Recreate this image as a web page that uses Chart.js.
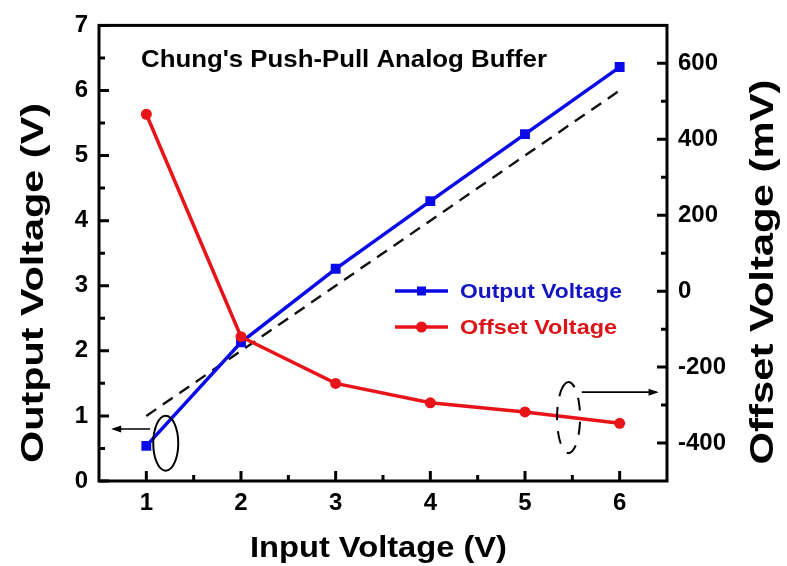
<!DOCTYPE html>
<html>
<head>
<meta charset="utf-8">
<script src="https://cdn.jsdelivr.net/npm/chart.js@4.4.1/dist/chart.umd.min.js"></script>
<style>
  html, body { margin: 0; padding: 0; background: #fff; }
  #wrap { width: 787px; height: 566px; }
</style>
</head>
<body>
<div id="wrap"><canvas id="c" width="787" height="566"></canvas></div>
<script>
// ---------------- data ----------------
const inputVoltage   = [1, 2, 3, 4, 5, 6];                       // V (x)
const outputVoltage  = [0.54, 2.13, 3.26, 4.30, 5.33, 6.36];     // V (left axis)
const offsetVoltage  = [466, -120, -243, -294, -318, -348];      // mV (right axis)
const idealVoltage   = [1.0, 2.0, 3.0, 4.0, 5.0, 6.0];           // dashed reference (V)

const xTicks   = [1, 2, 3, 4, 5, 6];
const xMinor   = [1.5, 2.5, 3.5, 4.5, 5.5];
const yTicks   = [0, 1, 2, 3, 4, 5, 6, 7];
const yMinor   = [0.5, 1.5, 2.5, 3.5, 4.5, 5.5, 6.5];
const y1Ticks  = [-400, -200, 0, 200, 400, 600];
const y1Minor  = [-300, -100, 100, 300, 500];
const xRange   = [0.5, 6.5];
const yRange   = [0, 7];
const y1Range  = [-500, 700];

const chartTitle  = "Chung's Push-Pull Analog Buffer";
const xTitle      = 'Input Voltage (V)';
const yTitle      = 'Output Voltage (V)';
const y1Title     = 'Offset Voltage (mV)';
const seriesNames = ['Output Voltage', 'Offset Voltage'];

// annotation marks (data coordinates)
const leftEllipse  = { x: 1.205, y: 0.58, axis: 'y' };
const leftArrow    = { x0: 1.04, x1: 0.65, y: 0.80, axis: 'y' };
const rightEllipse = { x: 5.46, y: -333, axis: 'y1' };
const rightArrow   = { x0: 5.60, x1: 6.39, y: -266, axis: 'y1' };

// ---------------- style ----------------
const FONT = "'Liberation Sans', Arial, Helvetica, sans-serif";
const BLUE = '#0a0ae8';
const RED = '#e8141a';
const BLUE_TXT = '#1414c4';
const RED_TXT = '#dc1418';

const toXY = (xs, ys) => xs.map((x, i) => ({ x: x, y: ys[i] }));

function drawStretched(ctx, text, x, y, fontPx, targetW, angle, align, color) {
  ctx.save();
  ctx.font = 'bold ' + fontPx + 'px ' + FONT;
  const w = ctx.measureText(text).width;
  ctx.translate(x, y);
  ctx.rotate(angle);
  ctx.scale(targetW / w, 1);
  ctx.textAlign = align;
  ctx.textBaseline = 'alphabetic';
  ctx.fillStyle = color;
  ctx.fillText(text, 0, 0);
  ctx.restore();
}

function arrow(ctx, x0, y0, x1, y1) {
  ctx.save();
  ctx.strokeStyle = '#000';
  ctx.fillStyle = '#000';
  ctx.lineWidth = 1.6;
  ctx.beginPath(); ctx.moveTo(x0, y0); ctx.lineTo(x1, y1); ctx.stroke();
  const dir = Math.sign(x1 - x0);
  ctx.beginPath();
  ctx.moveTo(x1 + dir * 2, y1);
  ctx.lineTo(x1 - dir * 8, y1 - 3.5);
  ctx.lineTo(x1 - dir * 8, y1 + 3.5);
  ctx.closePath(); ctx.fill();
  ctx.restore();
}

const decor = {
  id: 'decor',
  afterDatasetsDraw(chart) {
    const ctx = chart.ctx;
    const sx = chart.scales.x, sy = chart.scales.y, sy1 = chart.scales.y1;
    const ax = { y: sy, y1: sy1 };

    // annotations
    ctx.save();
    ctx.strokeStyle = '#000';
    ctx.lineWidth = 2;
    ctx.beginPath();
    ctx.ellipse(sx.getPixelForValue(leftEllipse.x), ax[leftEllipse.axis].getPixelForValue(leftEllipse.y), 12.5, 27.5, 0, 0, Math.PI * 2);
    ctx.stroke();
    ctx.setLineDash([13, 11]);
    ctx.beginPath();
    ctx.ellipse(sx.getPixelForValue(rightEllipse.x), ax[rightEllipse.axis].getPixelForValue(rightEllipse.y), 11.5, 35.5, 0, -Math.PI / 2 - 0.35, Math.PI * 1.5 - 0.35);
    ctx.stroke();
    ctx.restore();
    const ly = ax[leftArrow.axis].getPixelForValue(leftArrow.y);
    arrow(ctx, sx.getPixelForValue(leftArrow.x0), ly, sx.getPixelForValue(leftArrow.x1), ly);
    const ry = ax[rightArrow.axis].getPixelForValue(rightArrow.y);
    arrow(ctx, sx.getPixelForValue(rightArrow.x0), ry, sx.getPixelForValue(rightArrow.x1), ry);
  },
  afterDraw(chart) {
    const ctx = chart.ctx;
    const ca = chart.chartArea;
    const sx = chart.scales.x, sy = chart.scales.y, sy1 = chart.scales.y1;
    ctx.save();
    ctx.strokeStyle = '#000';
    ctx.lineWidth = 3;
    ctx.lineCap = 'butt';
    // frame
    ctx.strokeRect(ca.left, ca.top, ca.right - ca.left, ca.bottom - ca.top);
    // tick marks (inward)
    const MAJ = 10, MIN = 6;
    ctx.beginPath();
    xTicks.forEach(v => { const p = sx.getPixelForValue(v); ctx.moveTo(p, ca.bottom); ctx.lineTo(p, ca.bottom - MAJ); });
    xMinor.forEach(v => { const p = sx.getPixelForValue(v); ctx.moveTo(p, ca.bottom); ctx.lineTo(p, ca.bottom - MIN); });
    yTicks.forEach(v => { const p = sy.getPixelForValue(v); ctx.moveTo(ca.left, p); ctx.lineTo(ca.left + MAJ, p); });
    yMinor.forEach(v => { const p = sy.getPixelForValue(v); ctx.moveTo(ca.left, p); ctx.lineTo(ca.left + MIN, p); });
    y1Ticks.forEach(v => { const p = sy1.getPixelForValue(v); ctx.moveTo(ca.right, p); ctx.lineTo(ca.right - MAJ, p); });
    y1Minor.forEach(v => { const p = sy1.getPixelForValue(v); ctx.moveTo(ca.right, p); ctx.lineTo(ca.right - MIN, p); });
    ctx.stroke();
    ctx.restore();

    // titles
    drawStretched(ctx, chartTitle, 141, 67, 23, 406, 0, 'left', '#000');
    drawStretched(ctx, xTitle, 378.5, 557, 30, 257, 0, 'center', '#000');
    drawStretched(ctx, yTitle, 43, 283, 32, 360, -Math.PI / 2, 'center', '#000');
    drawStretched(ctx, y1Title, 773, 272, 34, 385, -Math.PI / 2, 'center', '#000');

    // legend
    const items = [
      { label: seriesNames[0], y: 291, col: BLUE, txt: BLUE_TXT, shape: 'rect', w: 162 },
      { label: seriesNames[1], y: 327, col: RED, txt: RED_TXT, shape: 'circle', w: 157 }
    ];
    items.forEach(it => {
      ctx.save();
      ctx.strokeStyle = it.col; ctx.fillStyle = it.col; ctx.lineWidth = 3.5;
      ctx.beginPath(); ctx.moveTo(395, it.y); ctx.lineTo(448, it.y); ctx.stroke();
      ctx.beginPath();
      if (it.shape === 'rect') ctx.rect(421.5 - 4.5, it.y - 4.5, 9, 9);
      else ctx.arc(421.5, it.y, 5.5, 0, Math.PI * 2);
      ctx.fill();
      ctx.restore();
      drawStretched(ctx, it.label, 460, it.y + 7, 21, it.w, 0, 'left', it.txt);
    });
  }
};

const tickFont = { family: FONT, size: 24, weight: 'bold' };

new Chart(document.getElementById('c'), {
  type: 'line',
  data: {
    datasets: [
      {
        label: 'Ideal',
        data: toXY(inputVoltage, idealVoltage),
        xAxisID: 'x', yAxisID: 'y',
        borderColor: '#111', borderWidth: 2.4, borderDash: [12, 8],
        pointRadius: 0, fill: false, tension: 0, order: 3
      },
      {
        label: seriesNames[0],
        data: toXY(inputVoltage, outputVoltage),
        xAxisID: 'x', yAxisID: 'y',
        borderColor: BLUE, backgroundColor: BLUE, borderWidth: 3.5,
        pointStyle: 'rect', pointRadius: 7, pointBorderWidth: 0,
        pointBackgroundColor: BLUE, fill: false, tension: 0, order: 2
      },
      {
        label: seriesNames[1],
        data: toXY(inputVoltage, offsetVoltage),
        xAxisID: 'x', yAxisID: 'y1',
        borderColor: RED, backgroundColor: RED, borderWidth: 3.5,
        pointStyle: 'circle', pointRadius: 5.5, pointBorderWidth: 0,
        pointBackgroundColor: RED, fill: false, tension: 0, order: 1
      }
    ]
  },
  options: {
    responsive: false,
    animation: false,
    devicePixelRatio: 1,
    layout: { padding: { top: 24, left: 0, right: 0, bottom: 0 } },
    plugins: { legend: { display: false }, tooltip: { enabled: false }, title: { display: false } },
    scales: {
      x: {
        type: 'linear', position: 'bottom', min: xRange[0], max: xRange[1],
        afterBuildTicks: s => { s.ticks = xTicks.map(v => ({ value: v })); },
        afterFit: s => { s.height = 85; },
        grid: { display: false, drawTicks: false },
        border: { display: false },
        ticks: { font: tickFont, color: '#000', padding: 8, maxRotation: 0, autoSkip: false }
      },
      y: {
        type: 'linear', position: 'left', min: yRange[0], max: yRange[1],
        afterBuildTicks: s => { s.ticks = yTicks.map(v => ({ value: v })); },
        afterFit: s => { s.width = 99; },
        grid: { display: false, drawTicks: false },
        border: { display: false },
        ticks: { font: tickFont, color: '#000', padding: 11, autoSkip: false }
      },
      y1: {
        type: 'linear', position: 'right', min: y1Range[0], max: y1Range[1],
        afterBuildTicks: s => { s.ticks = y1Ticks.map(v => ({ value: v })); },
        afterFit: s => { s.width = 120; },
        grid: { display: false, drawTicks: false },
        border: { display: false },
        ticks: { font: tickFont, color: '#000', padding: 11, autoSkip: false }
      }
    }
  },
  plugins: [decor]
});
</script>
</body>
</html>
